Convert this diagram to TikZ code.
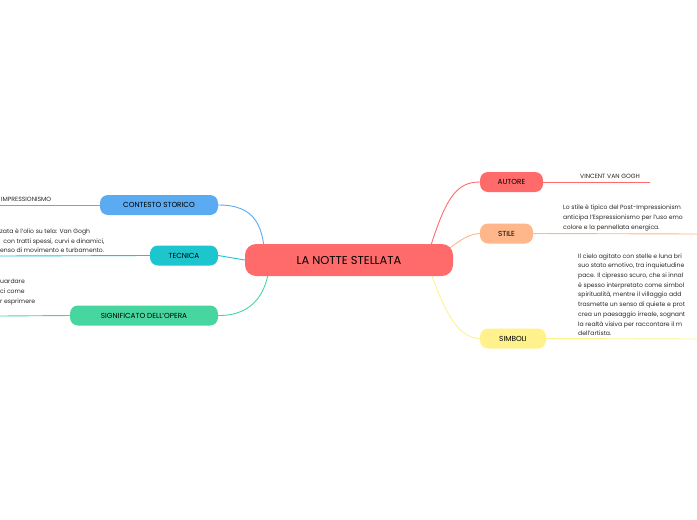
\documentclass[tikz,border=0pt]{standalone}
\usepackage{fontspec}
\setmainfont{Poppins}
\usetikzlibrary{backgrounds}
\definecolor{cred}{HTML}{FF6B6B}
\definecolor{corange}{HTML}{FFB68A}
\definecolor{cyellow}{HTML}{FFF28C}
\definecolor{cblue}{HTML}{5AABF2}
\definecolor{cteal}{HTML}{1DC6CF}
\definecolor{cgreen}{HTML}{48D6A0}
\tikzset{
 topic/.style={rounded corners=8pt,minimum height=20pt,inner xsep=6pt,font=\fontsize{7.3}{8}\selectfont,text=black},
 note/.style={font=\fontsize{6.1}{9.7}\selectfont,text=black!85,align=left,inner sep=0pt},
 conn/.style={line width=0.9pt}
}
\begin{document}
\begin{tikzpicture}[x=1pt,y=-1pt]
\useasboundingbox (0,0) rectangle (697,520);
\node[topic,fill=cred,minimum width=208pt,minimum height=32pt,rounded corners=11pt,font=\fontsize{11.5}{13}\selectfont] (c) at (349,260) {LA NOTTE STELLATA};
\node[topic,fill=cred,minimum width=63pt] (au) at (511.5,182) {AUTORE};
\node[topic,fill=corange,minimum width=53pt] (st) at (506.5,233.5) {STILE};
\node[topic,fill=cyellow,minimum width=66pt] (si) at (513,338.5) {SIMBOLI};
\node[topic,fill=cblue,minimum width=118pt] (cs) at (159,205) {CONTESTO STORICO};
\node[topic,fill=cteal,minimum width=68pt] (te) at (184,255.5) {TECNICA};
\node[topic,fill=cgreen,minimum width=148pt] (sg) at (144,315.5) {SIGNIFICATO DELL'OPERA};
\coordinate (auE) at (650,182);
\coordinate (stE) at (697,234);
\coordinate (siE) at (697,339);
\coordinate (csW) at (0,205);
\coordinate (teW) at (0,256);
\coordinate (sgW) at (0,316);
\node[note,anchor=south] (t1) at (610,179) {VINCENT VAN GOGH};
\node[note,anchor=south west] (t2) at (563,231) {Lo stile è tipico del Post-Impressionism\\anticipa l'Espressionismo per l'uso emo\\colore e la pennellata energica.};
\node[note,anchor=south west] (t3) at (578,336) {Il cielo agitato con stelle e luna bri\\suo stato emotivo, tra inquietudine\\pace. Il cipresso scuro, che si innal\\è spesso interpretato come simbol\\spiritualità, mentre il villaggio add\\trasmette un senso di quiete e prot\\crea un paesaggio irreale, sognant\\la realtà visiva per raccontare il m\\dell'artista.};
\node[note,anchor=south west] (t4) at (1,202) {IMPRESSIONISMO};
\node[note,anchor=south west] (t5) at (0,253) {zata è l'olio su tela: Van Gogh\\\ \ con tratti spessi, curvi e dinamici,\\enso di movimento e turbamento.};
\node[note,anchor=south west] (t6) at (0,305) {uardare\\ci come\\r esprimere};
\begin{scope}[on background layer]
\draw[conn,cred] (c.east) ++(-25,-6) coordinate (x1) .. controls (445,200) and (455,182) .. (au.west);
\draw[conn,cred] (au.east) -- (auE);
\draw[conn,corange] (c.east) ++(-20,0) .. controls (455,245) and (465,234) .. (st.west);
\draw[conn,corange] (st.east) -- (stE);
\draw[conn,cyellow] (c.east) ++(-25,5) .. controls (440,300) and (455,339) .. (si.west);
\draw[conn,cyellow] (si.east) -- (siE);
\draw[conn,cblue] (cs.east) .. controls (255,205) and (265,225) .. ([xshift=20pt,yshift=-6pt]c.west);
\draw[conn,cblue] (cs.west) -- (csW);
\draw[conn,cteal] (te.east) -- (c.west);
\draw[conn,cteal] (te.west) -- (teW);
\draw[conn,cgreen] (sg.east) .. controls (255,316) and (270,290) .. ([xshift=25pt,yshift=6pt]c.west);
\draw[conn,cgreen] (sg.west) -- (sgW);
\end{scope}
\end{tikzpicture}
\end{document}
